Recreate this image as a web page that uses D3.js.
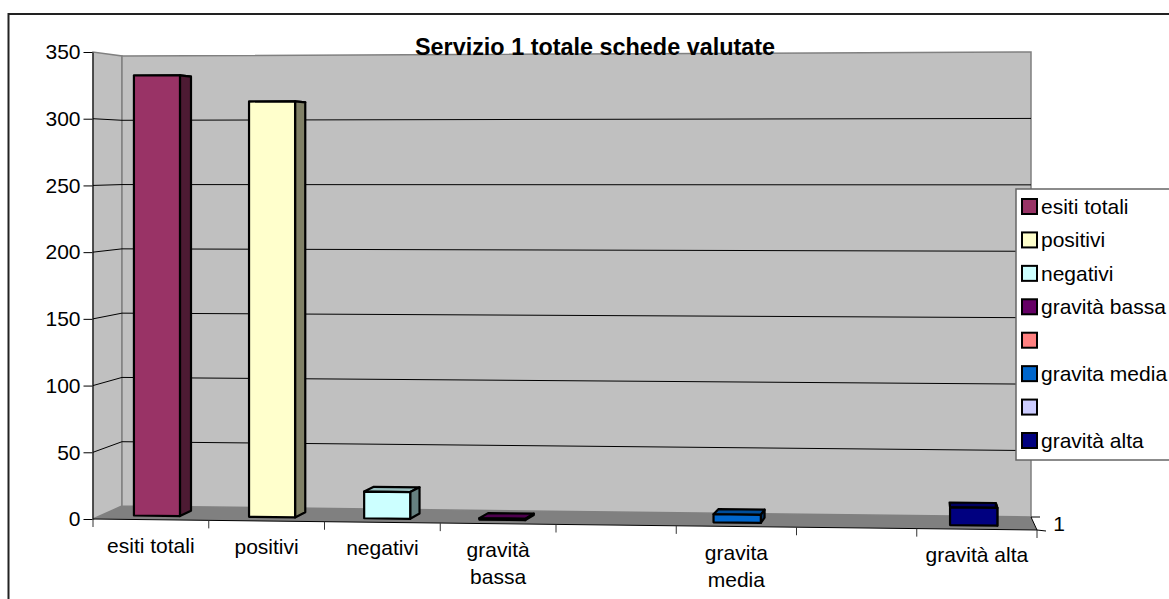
<!DOCTYPE html>
<html>
<head>
<meta charset="utf-8">
<script src="https://cdn.jsdelivr.net/npm/d3@7"></script>
<style>
  html, body { margin: 0; padding: 0; background: #fff; overflow: hidden; }
  text { font-family: "Liberation Sans", Arial, sans-serif; fill: #000; }
</style>
</head>
<body>
<div id="chart"></div>
<script>
// Chart data
const chartTitle = "Servizio 1 totale schede valutate";
const categories = ["esiti totali", "positivi", "negativi", "gravità bassa", "", "gravita media", "", "gravità alta"];
const values = [333, 313, 20, 1, null, 6, null, 13];
const yTicks = [0, 50, 100, 150, 200, 250, 300, 350];
const seriesLabel = "1";
const palette = ["#993366", "#ffffcc", "#ccffff", "#660066", "#ff8080", "#0066cc", "#ccccff", "#000080"];

// Labels that the original chart breaks over two lines
const labelLines = {
    "gravità bassa": ["gravità", "bassa"],
    "gravita media": ["gravita", "media"]
};

const width = 1169;
const height = 599;
const fontSize = 21;

const svg = d3.select("#chart")
    .append("svg")
    .attr("width", width)
    .attr("height", height)
    .style("display", "block");

// Category position along the front and back edge of the floor
const xFront = d3.scaleLinear().domain([0, 4, 8]).range([93, 556, 1037]);
const xBack = d3.scaleLinear().domain([0, 8]).range([122, 1031]);

// One value scale per vertical edge of the 3D box
const yFrontLeft = d3.scaleLinear().domain([0, 350]).range([519, 52]);
const yBackLeft = d3.scaleLinear().domain([0, 350]).range([506, 56]);
const yBackRight = d3.scaleLinear().domain([0, 350]).range([517, 52]);
const yFrontRight = d3.scaleLinear().domain([0, 350]).range([530, 47]);

// category position, value, depth (0 = front, 1 = back wall) to screen
function project(i, v, d) {
    const t = i / 8;
    const yF = d3.interpolateNumber(yFrontLeft(v), yFrontRight(v))(t);
    const yB = d3.interpolateNumber(yBackLeft(v), yBackRight(v))(t);
    return [
        d3.interpolateNumber(xFront(i), xBack(i))(d),
        d3.interpolateNumber(yF, yB)(d)
    ];
}

const polygon = d3.line().curve(d3.curveLinearClosed);

// Walls and floor
svg.append("path")
    .attr("fill", "#c0c0c0")
    .attr("stroke", "#808080")
    .attr("stroke-width", 1.5)
    .attr("d", polygon([project(0, 0, 0), project(0, 350, 0), project(0, 350, 1), project(0, 0, 1)]));

svg.append("path")
    .attr("fill", "#c0c0c0")
    .attr("stroke", "#808080")
    .attr("stroke-width", 1.5)
    .attr("d", polygon([project(0, 0, 1), project(0, 350, 1), project(8, 350, 1), project(8, 0, 1)]));

svg.append("path")
    .attr("fill", "#808080")
    .attr("d", polygon([project(0, 0, 0), project(0, 0, 1), project(8, 0, 1), project(8, 0, 0)]));

// Title sits right on the top edge of the back wall
svg.append("text")
    .attr("x", 595)
    .attr("y", 55)
    .attr("text-anchor", "middle")
    .attr("font-size", 23.4)
    .attr("font-weight", "bold")
    .text(chartTitle);

// Gridlines on the side wall and the back wall
const gridValues = yTicks.filter(d => d > 0 && d < 350);

svg.append("g")
    .attr("id", "grid")
    .selectAll("path")
    .data(gridValues)
    .join("path")
    .attr("fill", "none")
    .attr("stroke", "#000")
    .attr("stroke-width", 1)
    .attr("d", d => d3.line()([project(0, d, 0), project(0, d, 1), project(8, d, 1)]));

// Bars: top and side first, front face over them
const bars = svg.append("g")
    .attr("id", "bars")
    .selectAll("g")
    .data(values.map((v, i) => ({ v, i })).filter(d => d.v !== null))
    .join("g")
    .attr("stroke", "#000")
    .attr("stroke-width", 2.2)
    .attr("stroke-linejoin", "round");

const barLeft = 0.28;
const barRight = 0.68;
const depthFront = 0.3;
const depthBack = 0.7;

bars.append("path")
    .attr("fill", d => d3.interpolateRgb(palette[d.i], "#000")(0.25))
    .attr("d", d => polygon([
        project(d.i + barLeft, d.v, depthFront),
        project(d.i + barLeft, d.v, depthBack),
        project(d.i + barRight, d.v, depthBack),
        project(d.i + barRight, d.v, depthFront)
    ]));

bars.append("path")
    .attr("fill", d => d3.interpolateRgb(palette[d.i], "#000")(0.5))
    .attr("d", d => polygon([
        project(d.i + barRight, 0, depthFront),
        project(d.i + barRight, d.v, depthFront),
        project(d.i + barRight, d.v, depthBack),
        project(d.i + barRight, 0, depthBack)
    ]));

bars.append("path")
    .attr("fill", d => palette[d.i])
    .attr("d", d => polygon([
        project(d.i + barLeft, 0, depthFront),
        project(d.i + barLeft, d.v, depthFront),
        project(d.i + barRight, d.v, depthFront),
        project(d.i + barRight, 0, depthFront)
    ]));

// Y axis
const yAxis = svg.append("g")
    .attr("transform", "translate(92.5, 0)")
    .call(d3.axisLeft(yFrontLeft).tickValues(yTicks).tickSize(9).tickPadding(3).tickSizeOuter(0));

yAxis.selectAll("text")
    .style("font-size", fontSize + "px")
    .style("font-family", "'Liberation Sans', Arial, sans-serif")
    .attr("fill", "#000");

// X axis: the floor edge is tilted, so the line and ticks follow project()
const xTickValues = d3.range(0, 9);

svg.append("path")
    .attr("fill", "none")
    .attr("stroke", "#000")
    .attr("stroke-width", 1)
    .attr("d", d3.line()([project(0, 0, 0), project(8, 0, 0)]));

svg.append("g")
    .selectAll("line")
    .data(xTickValues)
    .join("line")
    .attr("x1", d => project(d, 0, 0)[0])
    .attr("x2", d => project(d, 0, 0)[0])
    .attr("y1", d => project(d, 0, 0)[1])
    .attr("y2", d => project(d, 0, 0)[1] + 8)
    .attr("stroke", "#333")
    .attr("stroke-width", 1);

const xLabels = svg.append("g")
    .selectAll("text")
    .data(categories.map((c, i) => ({ c, i })).filter(d => d.c !== ""))
    .join("text")
    .attr("text-anchor", "middle")
    .attr("font-size", fontSize)
    .attr("y", d => project(d.i + 0.5, 0, 0)[1] + 33);

xLabels.selectAll("tspan")
    .data(d => (labelLines[d.c] || [d.c]).map(line => ({ line, i: d.i })))
    .join("tspan")
    .attr("x", d => project(d.i + 0.5, 0, 0)[0])
    .attr("dy", (d, n) => n === 0 ? 0 : 27)
    .text(d => d.line);

// Depth axis at the right corner of the floor
svg.append("path")
    .attr("fill", "none")
    .attr("stroke", "#000")
    .attr("stroke-width", 1)
    .attr("d", d3.line()([
        [project(8, 0, 1)[0] + 9, project(8, 0, 1)[1]],
        project(8, 0, 1),
        project(8, 0, 0),
        [project(8, 0, 0)[0] + 9, project(8, 0, 0)[1] + 1]
    ]));

svg.append("text")
    .attr("x", project(8, 0, 0)[0] + 22)
    .attr("y", project(8, 0, 0)[1] + 1)
    .attr("text-anchor", "middle")
    .attr("font-size", fontSize)
    .text(seriesLabel);

// Legend
const legend = svg.append("g").attr("id", "legend");

legend.append("rect")
    .attr("x", 1016)
    .attr("y", 189)
    .attr("width", 160)
    .attr("height", 271)
    .attr("fill", "#fff")
    .attr("stroke", "#666")
    .attr("stroke-width", 1.5);

const legendY = d3.scalePoint()
    .domain(d3.range(categories.length))
    .range([207, 441]);

legend.selectAll("rect.swatch")
    .data(categories)
    .join("rect")
    .attr("class", "swatch")
    .attr("x", 1022)
    .attr("y", (d, i) => legendY(i) - 8)
    .attr("width", 15)
    .attr("height", 15)
    .attr("fill", (d, i) => palette[i])
    .attr("stroke", "#000")
    .attr("stroke-width", 2);

legend.selectAll("text")
    .data(categories)
    .join("text")
    .attr("x", 1041)
    .attr("y", (d, i) => legendY(i) + 7)
    .attr("font-size", fontSize)
    .text(d => d);

// Chart frame, open past the edge of the picture
svg.append("path")
    .attr("fill", "none")
    .attr("stroke", "#222")
    .attr("stroke-width", 2)
    .attr("d", d3.line()([[8.5, 600], [8.5, 14], [1170, 14]]));
</script>
</body>
</html>
